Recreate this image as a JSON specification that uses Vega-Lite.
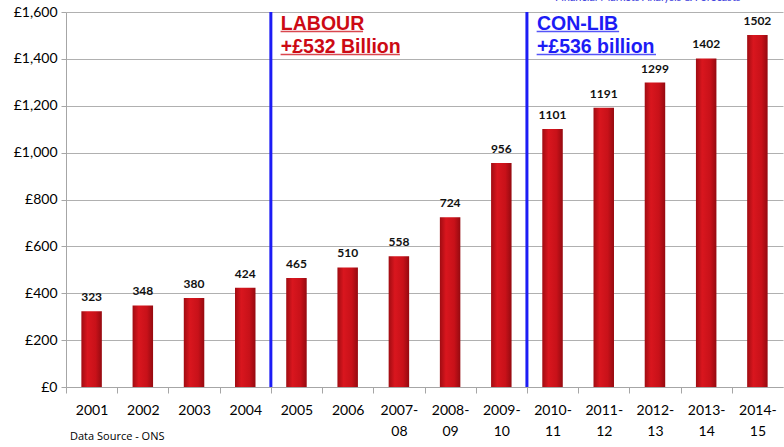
{
  "$schema": "https://vega.github.io/schema/vega-lite/v6.json",
  "autosize": {"type": "none"},
  "padding": {"left": 66, "top": 12, "right": 1, "bottom": 60},
  "width": 717,
  "height": 375,
  "background": "white",
  "config": {"view": {"stroke": null}},
  "datasets": {
    "debt": [
      {"year": "2001", "bn": 323},
      {"year": "2002", "bn": 348},
      {"year": "2003", "bn": 380},
      {"year": "2004", "bn": 424},
      {"year": "2005", "bn": 465},
      {"year": "2006", "bn": 510},
      {"year": "2007-08", "bn": 558},
      {"year": "2008-09", "bn": 724},
      {"year": "2009-10", "bn": 956},
      {"year": "2010-11", "bn": 1101},
      {"year": "2011-12", "bn": 1191},
      {"year": "2012-13", "bn": 1299},
      {"year": "2013-14", "bn": 1402},
      {"year": "2014-15", "bn": 1502}
    ],
    "govts": [
      {"year": "2005", "line1": "LABOUR", "line2": "+£532 Billion", "party": "Labour", "end1": "2006", "end2": "2007-08"},
      {"year": "2010-11", "line1": "CON-LIB", "line2": "+£536 billion", "party": "Con-Lib", "end1": "2011-12", "end2": "2012-13"}
    ]
  },
  "layer": [
    {
      "data": {"name": "debt"},
      "mark": {
        "type": "bar",
        "width": {"band": 0.4},
        "color": {
          "gradient": "linear",
          "x1": 0, "x2": 1, "y1": 0, "y2": 0,
          "stops": [
            {"offset": 0, "color": "#a00c12"},
            {"offset": 0.3, "color": "#d9161e"},
            {"offset": 0.7, "color": "#c81119"},
            {"offset": 1, "color": "#950a10"}
          ]
        }
      },
      "encoding": {
        "x": {
          "field": "year",
          "type": "nominal",
          "sort": null,
          "scale": {
            "domain": ["2001", "2002", "2003", "2004", "2005", "2006", "2007-08", "2008-09", "2009-10", "2010-11", "2011-12", "2012-13", "2013-14", "2014-15"],
            "paddingInner": 0,
            "paddingOuter": 0
          },
          "axis": {
            "title": null,
            "labelAngle": 0,
            "labelFont": "Lato",
            "labelFontSize": 14,
            "labelColor": "#000000",
            "labelPadding": 10,
            "labelLineHeight": 21,
            "labelExpr": "length(datum.value) > 4 ? [substring(datum.value, 0, 5), substring(datum.value, 5)] : datum.value",
            "tickOffset": -25.6,
            "labelOffset": 25.6,
            "tickSize": 6,
            "tickColor": "#a6a6a6",
            "domainColor": "#a6a6a6",
            "grid": false
          }
        },
        "y": {
          "field": "bn",
          "type": "quantitative",
          "scale": {"domain": [0, 1600], "nice": false},
          "axis": {
            "title": null,
            "values": [0, 200, 400, 600, 800, 1000, 1200, 1400, 1600],
            "labelExpr": "'£' + format(datum.value, ',')",
            "labelFont": "Lato",
            "labelFontSize": 14,
            "labelColor": "#000000",
            "labelPadding": 4,
            "tickSize": 5,
            "tickColor": "#a6a6a6",
            "domainColor": "#a6a6a6",
            "gridColor": "#b0b0b0",
            "gridOpacity": 1
          }
        }
      }
    },
    {
      "data": {"name": "debt"},
      "mark": {"type": "text", "font": "Lato", "fontWeight": "bold", "fontSize": 12, "color": "#111111", "baseline": "bottom", "dy": -7},
      "encoding": {
        "x": {"field": "year", "type": "nominal"},
        "y": {"field": "bn", "type": "quantitative"},
        "text": {"field": "bn", "type": "quantitative"}
      }
    },
    {
      "data": {"name": "govts"},
      "mark": {"type": "rule", "color": "#1c1cf5", "strokeWidth": 3},
      "encoding": {
        "x": {"field": "year", "type": "nominal", "bandPosition": 0}
      }
    },
    {
      "data": {"name": "govts"},
      "mark": {"type": "text", "font": "Liberation Sans", "fontWeight": "bold", "fontSize": 19.5, "align": "left", "baseline": "middle", "dx": 10},
      "encoding": {
        "x": {"field": "year", "type": "nominal", "bandPosition": 0},
        "y": {"datum": 1550, "type": "quantitative"},
        "text": {"field": "line1"},
        "color": {"field": "party", "type": "nominal", "scale": {"domain": ["Labour", "Con-Lib"], "range": ["#cc0a14", "#1c1cf5"]}, "legend": null}
      }
    },
    {
      "data": {"name": "govts"},
      "mark": {"type": "text", "font": "Liberation Sans", "fontWeight": "bold", "fontSize": 19.5, "align": "left", "baseline": "middle", "dx": 10},
      "encoding": {
        "x": {"field": "year", "type": "nominal", "bandPosition": 0},
        "y": {"datum": 1452, "type": "quantitative"},
        "text": {"field": "line2"},
        "color": {"field": "party", "type": "nominal", "legend": null}
      }
    },
    {
      "data": {"name": "govts"},
      "mark": {"type": "rule", "strokeWidth": 1.5, "opacity": 0.75},
      "encoding": {
        "x": {"field": "year", "type": "nominal", "bandPosition": 0.19},
        "x2": {"field": "end1", "bandPosition": 0.8},
        "y": {"datum": 1517, "type": "quantitative"},
        "color": {"field": "party", "type": "nominal", "legend": null}
      }
    },
    {
      "data": {"name": "govts"},
      "mark": {"type": "rule", "strokeWidth": 1.5, "opacity": 0.75},
      "encoding": {
        "x": {"field": "year", "type": "nominal", "bandPosition": 0.19},
        "x2": {"field": "end2", "bandPosition": 0.52},
        "y": {"datum": 1419, "type": "quantitative"},
        "color": {"field": "party", "type": "nominal", "legend": null}
      }
    },
    {
      "data": {"values": [{"year": "2001", "note": "Data Source - ONS"}]},
      "mark": {"type": "text", "font": "Open Sans", "fontSize": 11, "color": "#000000", "align": "left", "baseline": "middle", "dx": 4},
      "encoding": {
        "x": {"field": "year", "type": "nominal", "bandPosition": 0},
        "y": {"datum": -213, "type": "quantitative"},
        "text": {"field": "note"}
      }
    },
    {
      "data": {"values": [{"year": "2010-11", "note": "Financial Markets Analysis & Forecasts"}]},
      "mark": {"type": "text", "font": "Lato", "fontSize": 11, "color": "#3b3bdc", "align": "left", "baseline": "middle", "dx": 28},
      "encoding": {
        "x": {"field": "year", "type": "nominal", "bandPosition": 0},
        "y": {"datum": 1660, "type": "quantitative"},
        "text": {"field": "note"}
      }
    }
  ]
}
